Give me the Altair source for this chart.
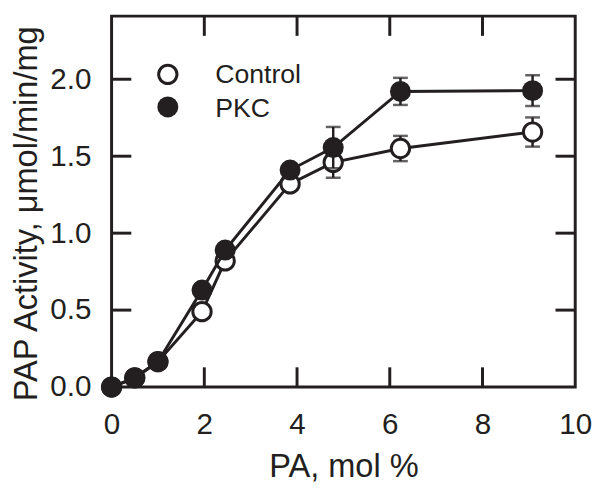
import altair as alt
import pandas as pd

# ---- data ----
pa = [0, 0.5, 1.0, 1.95, 2.45, 3.85, 4.78, 6.23, 9.08]
control = [0, 0.06, 0.165, 0.49, 0.82, 1.32, 1.46, 1.55, 1.657]
control_err = [0, 0, 0, 0, 0, 0, 0.10, 0.082, 0.095]
pkc = [0, 0.06, 0.165, 0.63, 0.89, 1.41, 1.556, 1.921, 1.926]
pkc_err = [0, 0, 0, 0, 0, 0, 0.134, 0.088, 0.10]
series = ["Control", "PKC"]
x_ticks = [2, 4, 6, 8]
y_ticks = [0.5, 1.0, 1.5, 2.0]
x_labels = [0, 2, 4, 6, 8, 10]
y_labels = [0.0, 0.5, 1.0, 1.5, 2.0]

W, H = 470, 376
INK = "#231f20"
FONT = "Liberation Sans"
TICK = 20

xs = alt.Scale(domain=[0, 10], nice=False, zero=False)
ys = alt.Scale(domain=[0, 2.41], nice=False, zero=False)

xaxis = alt.Axis(values=x_labels, format="d", ticks=False, domain=False, grid=False,
                 labelFontSize=30, labelPadding=23, labelColor=INK, labelFont=FONT,
                 labelFlush=False, labelOverlap=False,
                 title="PA, mol %", titleFontSize=33, titleFont=FONT, titleColor=INK,
                 titleFontWeight="normal", titleX=235, titleY=91,
                 titleBaseline="alphabetic", titleAlign="center")
yaxis = alt.Axis(values=y_labels, format=".1f", ticks=False, domain=False, grid=False,
                 labelFontSize=30, labelPadding=21, labelColor=INK, labelFont=FONT,
                 labelFlush=False, labelOverlap=False,
                 title="PAP Activity, \u03bcmol/min/mg", titleFontSize=33, titleFont=FONT,
                 titleColor=INK, titleFontWeight="normal", titleX=-76, titleY=390,
                 titleAngle=270, titleAlign="left", titleBaseline="alphabetic")


def frame(vals, errs):
    return pd.DataFrame({
        "pa": pa, "act": vals, "err": errs,
        "lo": [v - e for v, e in zip(vals, errs)],
        "hi": [v + e for v, e in zip(vals, errs)],
    })


def X(field="pa"):
    return alt.X(f"{field}:Q", scale=xs, axis=xaxis)


def Y(field="act"):
    return alt.Y(f"{field}:Q", scale=ys, axis=yaxis)


def series_layers(df, filled):
    eb = alt.Chart(df).transform_filter("datum.err > 0")
    rule = eb.mark_rule(color=INK, strokeWidth=2.5).encode(x=X(), y=Y("lo"), y2="hi:Q")
    cap_hi = eb.mark_tick(color=INK, thickness=2.5, size=15, orient="horizontal").encode(x=X(), y=Y("hi"))
    cap_lo = eb.mark_tick(color=INK, thickness=2.5, size=15, orient="horizontal").encode(x=X(), y=Y("lo"))
    line = alt.Chart(df).mark_line(color=INK, strokeWidth=3).encode(x=X(), y=Y())
    if filled:
        pts = alt.Chart(df).mark_circle(color=INK, size=452, opacity=1).encode(x=X(), y=Y())
    else:
        pts = alt.Chart(df).mark_point(shape="circle", filled=True, fill="white", stroke=INK,
                                       strokeWidth=3, size=346, opacity=1).encode(x=X(), y=Y())
    return [rule, cap_hi, cap_lo, line, pts]


df_c = frame(control, control_err)
df_p = frame(pkc, pkc_err)

xt = pd.DataFrame({"t": x_ticks})
yt = pd.DataFrame({"t": y_ticks})
tick_b = alt.Chart(xt).mark_rule(color=INK, strokeWidth=3).encode(
    x=X("t"), y=alt.value(H), y2=alt.value(H - TICK))
tick_t = alt.Chart(xt).mark_rule(color=INK, strokeWidth=3).encode(
    x=X("t"), y=alt.value(0), y2=alt.value(TICK))
tick_l = alt.Chart(yt).mark_rule(color=INK, strokeWidth=3).encode(
    y=Y("t"), x=alt.value(0), x2=alt.value(TICK))
tick_r = alt.Chart(yt).mark_rule(color=INK, strokeWidth=3).encode(
    y=Y("t"), x=alt.value(W), x2=alt.value(W - TICK))

leg = pd.DataFrame({"s": series})
leg_c = alt.Chart(leg).transform_filter("datum.s == 'Control'")
leg_p = alt.Chart(leg).transform_filter("datum.s == 'PKC'")
leg_layers = [
    leg_c.mark_point(shape="circle", filled=True, fill="white", stroke=INK, strokeWidth=3,
                     size=346, opacity=1).encode(x=alt.value(57), y=alt.value(59)),
    leg_p.mark_circle(color=INK, size=452, opacity=1).encode(x=alt.value(57), y=alt.value(92)),
    leg_c.mark_text(align="left", baseline="alphabetic", font=FONT, fontSize=27, color=INK).encode(
        x=alt.value(105), y=alt.value(68), text="s:N"),
    leg_p.mark_text(align="left", baseline="alphabetic", font=FONT, fontSize=27, color=INK).encode(
        x=alt.value(105), y=alt.value(102), text="s:N"),
]

chart = alt.layer(
    tick_b, tick_t, tick_l, tick_r,
    *series_layers(df_c, False),
    *series_layers(df_p, True),
    *leg_layers,
).properties(
    width=W, height=H,
    autosize=alt.AutoSizeParams(type="none"),
    padding={"left": 105, "top": 5, "right": 17, "bottom": 94},
).configure_view(stroke=INK, strokeWidth=3)

chart.save("out.html", embed_options={"renderer": "svg", "actions": False})
